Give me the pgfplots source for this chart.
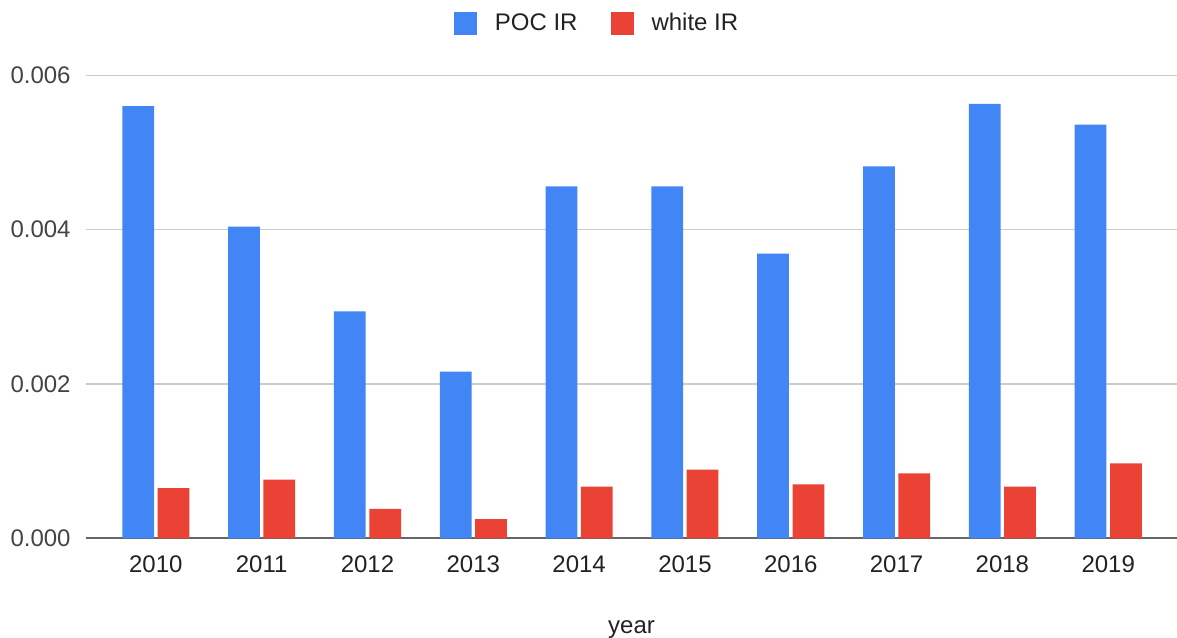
\documentclass[border=0pt]{standalone}
\usepackage{pgfplots}
\pgfplotsset{compat=1.18}
\usepackage{fontspec}
\setmainfont{Liberation Sans}
\definecolor{pocblue}{HTML}{4285F4}
\definecolor{whitered}{HTML}{EA4335}
\definecolor{ylabgray}{HTML}{444444}
\definecolor{xlabgray}{HTML}{222222}
\definecolor{gridgray}{HTML}{CCCCCC}
\definecolor{basegray}{HTML}{666666}

\begin{document}
\begin{tikzpicture}
\begin{axis}[
  scale only axis,
  width=545.5pt, height=231.5pt,
  font=\fontsize{12pt}{14pt}\selectfont,
  ybar,
  xmin=-0.66, xmax=9.65,
  ymin=0, ymax=0.006,
  xtick={0,...,9},
  xticklabels={2010,2011,2012,2013,2014,2015,2016,2017,2018,2019},
  ytick={0,0.002,0.004,0.006},
  scaled y ticks=false,
  major tick length=0pt,
  separate axis lines,
  axis x line*=bottom, axis y line*=left,
  x axis line style={basegray, line width=1pt},
  y axis line style={draw=none},
  ymajorgrids,
  grid style={gridgray, line width=0.6pt},
  x tick label style={anchor=north, inner sep=0pt, yshift=-8.5pt, text=xlabgray},
  y tick label style={anchor=east, inner sep=0pt, xshift=-7.5pt, text=ylabgray,
    /pgf/number format/fixed, /pgf/number format/fixed zerofill,
    /pgf/number format/precision=3, /pgf/number format/assume math mode=true},
  xlabel={year},
  xlabel style={at={(axis description cs:0.5,0)}, anchor=base, inner sep=0pt, yshift=-47.5pt, text=xlabgray},
  legend columns=2,
  legend style={at={(rel axis cs:0.4675,1)}, anchor=center, yshift=26pt,
    draw=none, fill=none, inner sep=0pt, outer sep=0pt,
    nodes={inner sep=0pt, text=xlabgray},
    /tikz/every odd column/.append style={column sep=9pt},
    /tikz/every even column/.append style={column sep=16.5pt}},
  legend image code/.code={\fill[#1] (0pt,-5.75pt) rectangle (11.5pt,5.75pt);},
]
  \addplot[fill=pocblue, draw=none, bar width=0.3, bar shift=-0.167] coordinates {
    (0, 0.00560) (1, 0.00404) (2, 0.00294) (3, 0.00216) (4, 0.00456)
    (5, 0.00456) (6, 0.00369) (7, 0.00482) (8, 0.00563) (9, 0.00536)
  };
  \addplot[fill=whitered, draw=none, bar width=0.3, bar shift=0.167] coordinates {
    (0, 0.00065) (1, 0.00076) (2, 0.00038) (3, 0.00025) (4, 0.00067)
    (5, 0.00089) (6, 0.00070) (7, 0.00084) (8, 0.00067) (9, 0.00097)
  };
  \addlegendentry{POC IR}
  \addlegendentry{white IR}
\end{axis}
\pgfresetboundingbox
\path[use as bounding box] (-43pt,-49.35pt) rectangle (545.5pt,269.15pt);
\end{tikzpicture}
\end{document}
